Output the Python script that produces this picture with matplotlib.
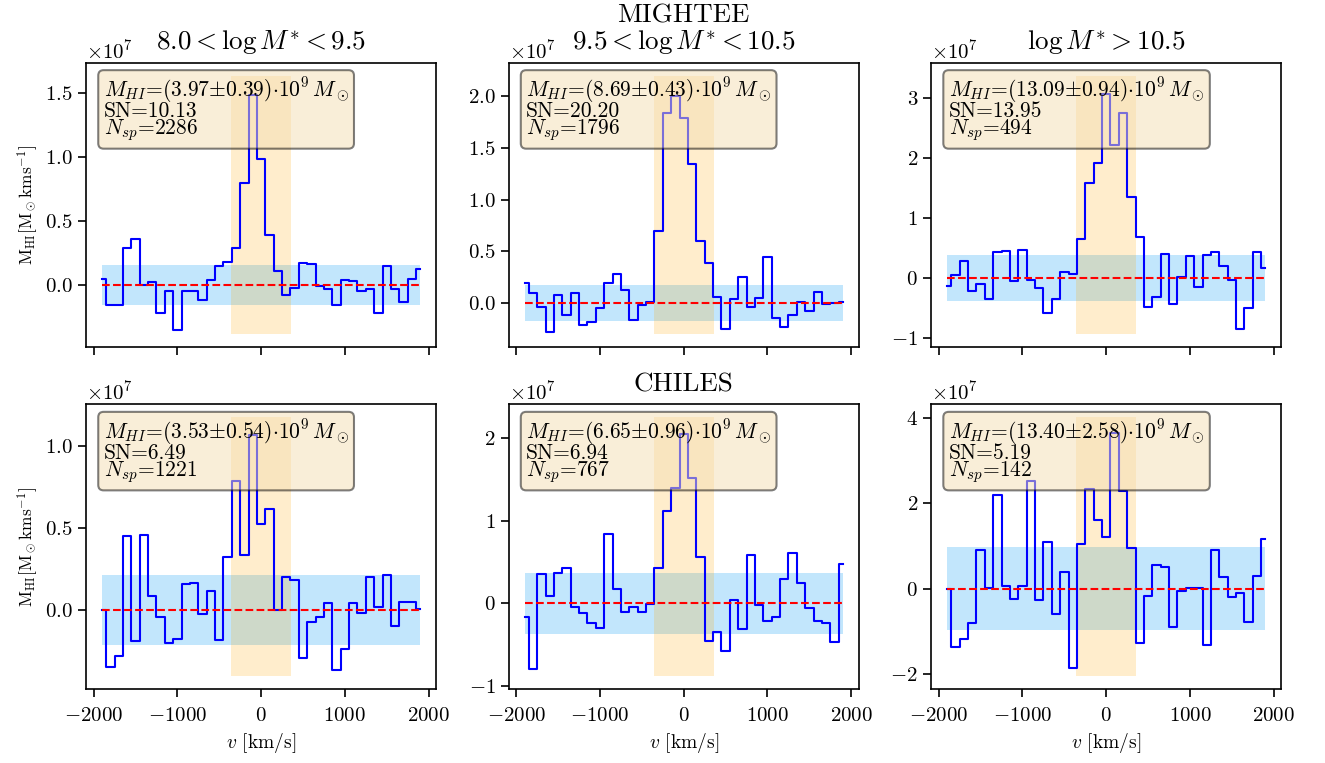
import matplotlib
matplotlib.use("Agg")
import matplotlib.pyplot as plt
import numpy as np

plt.rcParams["font.family"] = "cmr10"
plt.rcParams["mathtext.fontset"] = "cm"
plt.rcParams["axes.formatter.use_mathtext"] = True

# channel centres (km/s), stacked spectra in units of 1e7 Msun/(km/s)
velocity = np.arange(-1900, 1901, 100)

mightee_low = [0.047, -0.155, -0.149, 0.291, 0.361, 0.0, 0.029, -0.218, -0.04, -0.347,
               -0.04, -0.047, -0.112, 0.045, 0.149, 0.182, 0.294, 0.798, 1.487, 0.985,
               0.396, 0.112, -0.078, -0.021, 0.176, 0.168, -0.005, -0.029, -0.155, 0.039,
               0.034, -0.047, -0.029, -0.213, 0.153, -0.029, -0.128, 0.05, 0.128]
mightee_mid = [0.197, 0.10, -0.039, -0.277, 0.077, -0.116, 0.094, -0.216, -0.184, -0.052,
               0.19, 0.284, 0.126, -0.161, -0.019, 0.013, 0.697, 1.84, 2.003, 1.79,
               1.35, 0.60, 0.39, 0.055, -0.248, 0.042, 0.255, -0.035, 0.048, 0.442,
               -0.148, -0.229, -0.113, 0.01, -0.077, 0.11, -0.013, -0.003, 0.01]
mightee_high = [-0.139, 0.044, 0.278, -0.222, -0.106, -0.35, 0.428, 0.439, -0.056, 0.467,
                -0.044, -0.167, -0.594, -0.361, 0.089, 0.067, 0.65, 1.572, 1.917, 3.06,
                2.217, 2.74, 1.339, 0.683, -0.483, -0.322, 0.394, -0.444, 0.006, 0.367,
                -0.15, 0.372, 0.428, 0.194, -0.033, -0.856, -0.511, 0.428, 0.167]
chiles_low = [0.0, -0.346, -0.282, 0.45, -0.191, 0.455, 0.085, -0.042, -0.203, -0.179,
              0.161, 0.165, -0.024, 0.119, -0.183, 0.32, 0.783, 0.334, 1.067, 0.521,
              0.614, 0.0, 0.199, 0.181, -0.294, -0.075, -0.044, 0.042, -0.365, -0.239,
              0.046, -0.018, 0.203, 0.018, 0.215, -0.095, 0.05, 0.048, 0.008]
chiles_mid = [-0.161, -0.798, 0.359, 0.093, 0.367, 0.431, -0.048, -0.117, -0.238, -0.302,
              0.843, 0.177, -0.109, -0.044, -0.105, -0.008, 0.423, 1.113, 1.391, 2.044,
              1.508, 0.556, -0.452, -0.343, -0.573, 0.036, -0.306, 0.589, -0.016, -0.214,
              -0.161, 0.294, 0.613, 0.25, -0.056, -0.214, -0.242, -0.468, 0.476]
chiles_high = [0.0, -1.356, -1.177, -0.803, 0.896, 0.008, 2.198, 0.07, -0.249, 0.07,
               2.525, -0.273, 1.091, -0.592, 0.382, -1.855, 1.037, 2.323, 1.613, 1.2,
               3.648, 2.284, 0.951, -1.278, -0.171, 0.561, 0.499, -0.904, -0.055, 0.016,
               0.008, -1.317, 0.904, 0.281, -0.187, -0.109, -0.787, 0.296, 1.169]

spectra = [mightee_low, mightee_mid, mightee_high, chiles_low, chiles_mid, chiles_high]
noise = [0.156, 0.171, 0.38, 0.211, 0.369, 0.974]

mhi = ["3.97", "8.69", "13.09", "3.53", "6.65", "13.40"]
mhi_err = ["0.39", "0.43", "0.94", "0.54", "0.96", "2.58"]
sn = ["10.13", "20.20", "13.95", "6.49", "6.94", "5.19"]
n_spec = ["2286", "1796", "494", "1221", "767", "142"]

titles = [r"$8.0 < \log M^{*} < 9.5$",
          "MIGHTEE\n" + r"$9.5 < \log M^{*} < 10.5$",
          r"$\log M^{*} > 10.5$",
          "", "CHILES", ""]

LINE_WIDTH = 360  # half width of the integration window, km/s


def plot_panel(ax, flux, sigma, i):
    flux = np.array(flux) * 1e7
    sigma = sigma * 1e7
    ax.fill_between(velocity, -sigma, sigma, color="lightskyblue", alpha=0.5, lw=0)
    ax.step(velocity, flux, where="mid", color="blue", lw=1.5)
    ax.fill_betweenx([1.1 * flux.min(), 1.1 * flux.max()], -LINE_WIDTH, LINE_WIDTH,
                     color="orange", alpha=0.2, lw=0)
    ax.plot(velocity, np.zeros(len(velocity)), "r--", lw=1.5)

    label = (r"$M_{HI}$=(" + mhi[i] + r"$\pm$" + mhi_err[i] + r")$\cdot10^9\,M_\odot$"
             + "\nSN=" + sn[i] + "\n" + r"$N_{sp}$=" + n_spec[i])
    ax.text(0.05, 0.955, label, transform=ax.transAxes, fontsize=15.5, va="top",
            bbox=dict(boxstyle="round,pad=0.25", facecolor="wheat", alpha=0.5, lw=1.5),
            linespacing=0.78)
    ax.set_title(titles[i], fontsize=19.5, linespacing=1.05, pad=9)
    ax.tick_params(labelsize=15, length=6, width=1.2)
    ax.tick_params(axis="x", pad=7)
    ax.yaxis.get_offset_text().set_fontsize(15)
    for s in ax.spines.values():
        s.set_linewidth(1.2)


fig, axes = plt.subplots(2, 3, figsize=(13.25, 7.63), dpi=100, sharex=True)
fig.subplots_adjust(left=0.065, right=0.967, top=0.918, bottom=0.097,
                    wspace=0.207, hspace=0.2)

for i, ax in enumerate(axes.flat):
    plot_panel(ax, spectra[i], noise[i], i)

for ax in axes[:, 0]:
    ax.set_ylabel(r"M$_{\rm HI}$[M$_\odot$kms$^{-1}$]", fontsize=12.5)
for ax in axes[1]:
    ax.set_xlabel(r"$v$ [km/s]", fontsize=14)
    ax.set_xticks([-2000, -1000, 0, 1000, 2000])

plt.savefig("out.png", dpi=100)
